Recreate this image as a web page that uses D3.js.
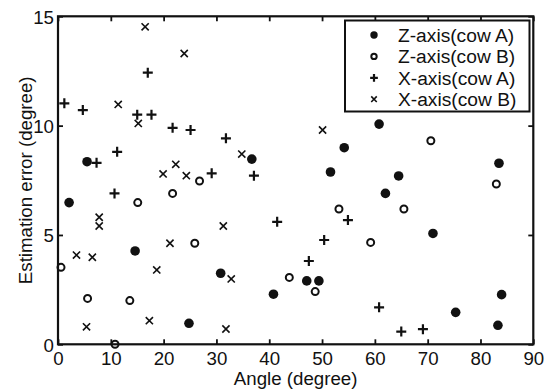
<!DOCTYPE html>
<html><head><meta charset="utf-8">
<script src="https://cdn.jsdelivr.net/npm/d3@7"></script>
<style>body{margin:0;background:#fff}svg{display:block}text{font-family:"Liberation Sans",Arial,sans-serif;fill:#111}</style>
</head><body><svg id="c" width="549" height="389"></svg>
<script>
const xTicks = [0,10,20,30,40,50,60,70,80,90];
const yTicks = [0,5,10,15];
const seriesNames = ["Z-axis(cow A)","Z-axis(cow B)","X-axis(cow A)","X-axis(cow B)"];
const zCowA = [[2.1,6.48],[5.5,8.35],[14.6,4.27],[24.8,0.96],[30.8,3.25],[40.8,2.29],[47.1,2.9],[49.4,2.9],[36.7,8.47],[54.2,8.99],[51.6,7.88],[60.8,10.07],[64.5,7.7],[62.0,6.9],[83.5,8.28],[71.0,5.07],[75.3,1.46],[83.3,0.87],[84.0,2.27]];
const zCowB = [[0.57,3.52],[5.6,2.1],[13.6,2.0],[10.8,0.0],[15.1,6.48],[21.7,6.9],[25.9,4.62],[26.8,7.47],[43.8,3.06],[48.7,2.41],[53.2,6.19],[59.2,4.66],[65.5,6.19],[70.6,9.31],[83.0,7.33]];
const xCowA = [[1.2,11.02],[4.7,10.71],[7.3,8.3],[11.2,8.8],[10.7,6.9],[15.0,10.5],[17.7,10.5],[17.0,12.42],[21.7,9.9],[25.1,9.8],[31.8,9.42],[29.1,7.82],[37.1,7.71],[41.5,5.6],[47.5,3.81],[50.4,4.77],[54.9,5.68],[60.8,1.69],[65.0,0.58],[69.1,0.69]];
const xCowB = [[16.5,14.52],[23.9,13.3],[11.4,10.97],[15.2,10.1],[19.9,7.79],[22.3,8.23],[24.3,7.71],[34.8,8.7],[50.1,9.8],[7.8,5.81],[7.8,5.41],[3.5,4.08],[6.5,3.98],[18.7,3.4],[21.2,4.62],[5.4,0.8],[17.3,1.08],[31.3,5.41],[32.8,2.99],[31.8,0.7]];

const svg = d3.select("#c");
const L=58, T=16.3, R=533.3, B=344.3;
const x = d3.scaleLinear().domain([0,90]).range([L,R]);
const y = d3.scaleLinear().domain([0,15]).range([B,T]);
const FS = "18.7px";

// axes
const axB = svg.append("g").attr("transform",`translate(0,${B})`)
  .call(d3.axisBottom(x).tickValues(xTicks).tickSizeInner(-5).tickSizeOuter(0).tickPadding(7));
const axT = svg.append("g").attr("transform",`translate(0,${T})`)
  .call(d3.axisTop(x).tickValues(xTicks).tickSizeInner(-5).tickSizeOuter(0).tickFormat(""));
const axL = svg.append("g").attr("transform",`translate(${L},0)`)
  .call(d3.axisLeft(y).tickValues(yTicks).tickSizeInner(-5).tickSizeOuter(0).tickPadding(4));
const axR = svg.append("g").attr("transform",`translate(${R},0)`)
  .call(d3.axisRight(y).tickValues(yTicks).tickSizeInner(-5).tickSizeOuter(0).tickFormat(""));
[axB,axT,axL,axR].forEach(a=>{
  a.select(".domain").remove();
  a.selectAll(".tick line").attr("stroke","#111").attr("stroke-width",1.8);
  a.selectAll(".tick text").style("font-size",FS).attr("fill","#111");
});
axB.selectAll(".tick text").attr("dy","0.71em");
axL.selectAll(".tick text").attr("dy","0.36em");
svg.append("rect").attr("x",L).attr("y",T).attr("width",R-L).attr("height",B-T)
  .attr("fill","none").attr("stroke","#111").attr("stroke-width",2.2);

// titles
svg.append("text").attr("x",(L+R)/2).attr("y",384.5).attr("text-anchor","middle").style("font-size",FS).text("Angle (degree)");
svg.append("text").attr("transform",`translate(32,${(T+B)/2}) rotate(-90)`).attr("text-anchor","middle").style("font-size",FS).text("Estimation error (degree)");

// marker drawing
function drawMarker(g, kind, s){
  if(kind===0) g.append("circle").attr("r",4.8*s).attr("fill","#111");
  else if(kind===1) g.append("circle").attr("r",3.5*s).attr("fill","none").attr("stroke","#111").attr("stroke-width",2);
  else if(kind===2){ const h=5*s; g.append("path").attr("d",`M${-h},0H${h}M0,${-h}V${h}`).attr("stroke","#111").attr("stroke-width",2.2); }
  else { const h=3.6*s; g.append("path").attr("d",`M${-h},${-h}L${h},${h}M${-h},${h}L${h},${-h}`).attr("stroke","#111").attr("stroke-width",1.6); }
}
const allSeries=[zCowA,zCowB,xCowA,xCowB];
allSeries.forEach((data,k)=>{
  svg.append("g").selectAll("g").data(data).join("g")
    .attr("transform",d=>`translate(${x(d[0])},${y(d[1])})`)
    .each(function(){ drawMarker(d3.select(this),k,1); });
});

// legend
const lg = svg.append("g");
lg.append("rect").attr("x",345).attr("y",20.5).attr("width",184.5).attr("height",91)
  .attr("fill","#fff").attr("stroke","#111").attr("stroke-width",2);
seriesNames.forEach((n,i)=>{
  const yy = 35 + i*21.4;
  const g = lg.append("g").attr("transform",`translate(374,${yy})`);
  drawMarker(g,i,0.77);
  lg.append("text").attr("x",398).attr("y",yy).attr("dy","0.36em").style("font-size","19.2px").text(n);
});
</script></body></html>
